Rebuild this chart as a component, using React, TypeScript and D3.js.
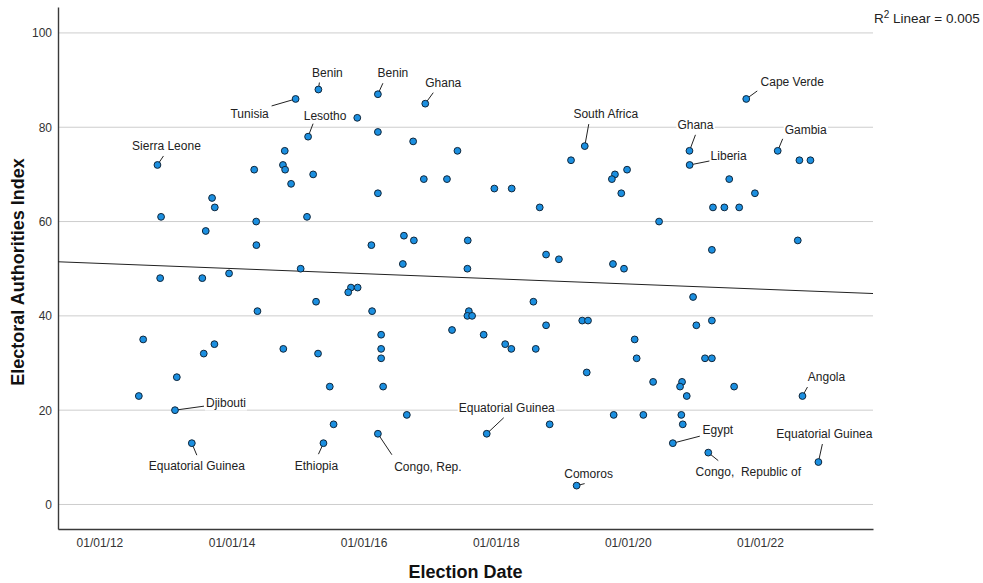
import { useEffect, useRef } from "react";
import * as d3 from "d3";

// labelled elections
const labelledCountries = [
  "Sierra Leone", "Tunisia", "Benin", "Benin", "Lesotho", "Ghana", "South Africa",
  "Ghana", "Liberia", "Cape Verde", "Gambia", "Djibouti", "Equatorial Guinea",
  "Ethiopia", "Congo, Rep.", "Equatorial Guinea", "Comoros", "Egypt",
  "Congo,  Republic of", "Angola", "Equatorial Guinea",
];
const labelledDates = [
  "2012-11-17", "2014-12-21", "2015-04-26", "2016-03-20", "2015-02-28", "2016-12-07", "2019-05-08",
  "2020-12-07", "2020-12-08", "2021-10-17", "2022-04-09", "2013-02-22", "2013-05-26",
  "2015-05-24", "2016-03-20", "2017-11-12", "2019-03-24", "2020-09-06",
  "2021-03-21", "2022-08-24", "2022-11-20",
];
const labelledScores = [72, 86, 88, 87, 78, 85, 76, 75, 72, 86, 75, 20, 13, 13, 15, 15, 4, 13, 11, 23, 9];

// the rest of the elections
const otherDates = [
  "2015-11-27", "2016-03-20", "2014-10-22", "2014-05-06", "2014-10-12", "2014-10-24", "2015-03-28",
  "2014-11-26", "2016-03-20", "2013-09-15", "2013-09-30", "2012-12-07", "2014-05-17", "2015-02-22",
  "2013-08-11", "2014-05-18", "2016-02-13", "2016-10-01", "2017-06-03", "2016-11-29", "2017-04-06",
  "2017-12-24", "2018-03-30", "2018-09-01", "2019-02-21", "2019-10-22", "2019-10-05", "2019-12-28",
  "2019-11-26", "2020-06-22", "2016-08-11", "2016-10-05", "2017-07-30", "2018-10-06", "2018-12-16",
  "2022-08-07", "2022-10-07", "2021-07-15", "2021-12-04", "2021-04-16", "2021-06-18", "2021-09-08",
  "2022-07-29", "2021-04-10", "2015-01-18", "2012-12-02", "2013-07-23", "2013-12-18", "2015-10-23",
  "2015-11-29", "2015-10-08", "2015-04-13", "2014-05-24", "2016-02-17", "2012-08-30", "2013-07-31",
  "2013-09-28", "2014-10-14", "2015-04-24", "2016-04-07", "2016-04-07", "2016-04-07", "2013-03-04",
  "2012-08-06", "2015-06-28", "2016-04-18", "2015-07-19", "2016-08-05", "2017-07-28", "2019-10-11",
  "2019-12-11", "2020-12-27", "2018-07-28", "2017-08-05", "2017-07-28", "2017-08-23", "2019-04-24",
  "2019-05-26", "2018-10-06", "2021-01-14", "2017-05-04", "2017-10-26", "2018-02-22", "2018-03-28",
  "2018-08-10", "2020-02-08", "2020-02-19", "2019-05-19", "2020-05-20", "2020-10-27", "2020-10-16",
  "2020-11-22", "2016-08-27", "2019-10-15", "2020-03-27", "2020-10-23", "2018-10-26", "2020-10-31",
  "2021-04-10", "2021-03-03", "2021-04-10", "2021-08-11",
];
const otherScores = [
  82, 79, 75, 71, 72, 71, 70,
  68, 66, 65, 63, 61, 60, 61,
  58, 55, 55, 77, 75, 69, 69,
  67, 67, 63, 73, 70, 69, 71,
  66, 60, 57, 56, 56, 53, 52,
  73, 73, 69, 66, 63, 63, 63,
  56, 54, 50, 48, 48, 49, 46,
  46, 45, 43, 41, 41, 35, 32,
  34, 33, 32, 36, 33, 31, 27,
  23, 25, 25, 17, 51, 50, 51,
  50, 44, 43, 41, 40, 40, 39,
  39, 38, 38, 37, 36, 34, 33,
  33, 35, 31, 28, 26, 26, 25,
  23, 19, 19, 19, 19, 17, 17,
  39, 31, 31, 25,
];

const yTicks = [0, 20, 40, 60, 80, 100];
const xTickYears = [2012, 2014, 2016, 2018, 2020, 2022];

// label placement: text centre and leader end, px offsets from the point
const labelLayout = [
  { tx: 9, ty: -19, lx: 6, ly: -9 },
  { tx: -46, ty: 15, lx: -24, ly: 7 },
  { tx: 9, ty: -17, lx: 1, ly: -7 },
  { tx: 15, ty: -22, lx: 5, ly: -11 },
  { tx: 17, ty: -21, lx: 5, ly: -13 },
  { tx: 18, ty: -21, lx: 8, ly: -11 },
  { tx: 21, ty: -32, lx: 4, ly: -22 },
  { tx: 6, ty: -26, lx: 6, ly: -16 },
  { tx: 39, ty: -9, lx: 20, ly: -4 },
  { tx: 46, ty: -17, lx: 11, ly: -8 },
  { tx: 28, ty: -21, lx: 5, ly: -12 },
  { tx: 51, ty: -7, lx: 29, ly: -4 },
  { tx: 5, ty: 22, lx: 5, ly: 12 },
  { tx: -7, ty: 22, lx: -5, ly: 11 },
  { tx: 50, ty: 33, lx: 14, ly: 21 },
  { tx: 20, ty: -26, lx: 17, ly: -16 },
  { tx: 12, ty: -12, lx: 8, ly: -2 },
  { tx: 45, ty: -14, lx: 27, ly: -7 },
  { tx: 40, ty: 19, lx: 10, ly: 8 },
  { tx: 24, ty: -19, lx: 5, ly: -9 },
  { tx: 6, ty: -28, lx: 4, ly: -18 },
];

const W = 983;
const H = 583;
const left = 58;
const right = 873;
const top = 7;
const bottom = 529;
const FONT = "'Liberation Sans', Arial, sans-serif";

const parse = d3.timeParse("%Y-%m-%d");

function App() {
  const svgRef = useRef(null);

  useEffect(() => {
    const svg = d3.select(svgRef.current);
    svg.selectAll("*").remove();

    const x = d3.scaleTime()
      .domain([new Date(2011, 4, 17), new Date(2023, 8, 18)])
      .range([left, right]);
    const y = d3.scaleLinear().domain([-5.2, 105.5]).range([bottom, top]);

    const others = otherDates.map((d, i) => ({ date: parse(d), v: otherScores[i] }));
    const labelled = labelledDates.map((d, i) => ({ date: parse(d), v: labelledScores[i], name: labelledCountries[i] }));
    const all = others.concat(labelled);

    // gridlines
    svg.append("g").selectAll("line").data(yTicks).join("line")
      .attr("x1", left).attr("x2", right)
      .attr("y1", (d) => y(d)).attr("y2", (d) => y(d))
      .attr("stroke", "#cdcdcd").attr("stroke-width", 1);

    // y axis
    const yAxis = svg.append("g").attr("transform", `translate(${left},0)`)
      .call(d3.axisLeft(y).tickValues(yTicks).tickSize(0).tickPadding(6).tickFormat(d3.format("d")));
    yAxis.select(".domain").attr("stroke", "#3a3a3a").attr("stroke-width", 1.4);
    yAxis.selectAll("text").attr("font-family", FONT).attr("font-size", 12).attr("fill", "#333");

    // x axis
    const xAxis = svg.append("g").attr("transform", `translate(0,${bottom})`)
      .call(d3.axisBottom(x).tickValues(xTickYears.map((yr) => new Date(yr, 0, 1)))
        .tickSize(0).tickPadding(9).tickFormat(d3.timeFormat("%m/%d/%y")));
    xAxis.select(".domain").attr("stroke", "#3a3a3a").attr("stroke-width", 1.4);
    xAxis.selectAll("text").attr("font-family", FONT).attr("font-size", 12).attr("fill", "#333");

    // linear fit
    const xs = all.map((d) => d.date.getTime());
    const ys = all.map((d) => d.v);
    const mx = d3.mean(xs);
    const my = d3.mean(ys);
    const slope = d3.sum(xs, (xv, i) => (xv - mx) * (ys[i] - my)) / d3.sum(xs, (xv) => (xv - mx) ** 2);
    const fit = (t) => my + slope * (t - mx);
    const [d0, d1] = x.domain();
    svg.append("line")
      .attr("x1", x(d0)).attr("y1", y(fit(d0.getTime())))
      .attr("x2", x(d1)).attr("y2", y(fit(d1.getTime())))
      .attr("stroke", "#222").attr("stroke-width", 1);

    // leader lines
    svg.append("g").selectAll("line").data(labelled).join("line")
      .attr("x1", (d) => x(d.date)).attr("y1", (d) => y(d.v))
      .attr("x2", (d, i) => x(d.date) + labelLayout[i].lx)
      .attr("y2", (d, i) => y(d.v) + labelLayout[i].ly)
      .attr("stroke", "#222").attr("stroke-width", 1);

    // points
    svg.append("g").selectAll("circle").data(all).join("circle")
      .attr("cx", (d) => x(d.date)).attr("cy", (d) => y(d.v))
      .attr("r", 3.4)
      .attr("fill", "#1b8fe0").attr("stroke", "#10263a").attr("stroke-width", 1);

    // labels with white backing
    const lab = svg.append("g").selectAll("g").data(labelled).join("g")
      .attr("transform", (d, i) => `translate(${x(d.date) + labelLayout[i].tx},${y(d.v) + labelLayout[i].ty})`);
    const txt = lab.append("text")
      .attr("text-anchor", "middle").attr("dy", "0.36em")
      .attr("font-family", FONT).attr("font-size", 12).attr("fill", "#222")
      .style("white-space", "pre")
      .text((d) => d.name);
    txt.each(function () {
      const b = this.getBBox();
      d3.select(this.parentNode).insert("rect", "text")
        .attr("x", b.x - 1).attr("y", b.y).attr("width", b.width + 2).attr("height", b.height)
        .attr("fill", "#fff");
    });

    // R² note
    const r = svg.append("text").attr("x", 874).attr("y", 23)
      .attr("font-family", FONT).attr("font-size", 13.5).attr("fill", "#222");
    r.append("tspan").text("R");
    r.append("tspan").attr("font-size", 10).attr("dy", -5).text("2");
    r.append("tspan").attr("dy", 5).text(" Linear = 0.005");

    // axis titles
    svg.append("text").attr("x", (left + right) / 2).attr("y", 578)
      .attr("text-anchor", "middle").attr("font-family", FONT)
      .attr("font-size", 18).attr("font-weight", "bold").attr("fill", "#111")
      .text("Election Date");
    svg.append("text").attr("transform", `translate(24,${(top + bottom) / 2 + 4}) rotate(-90)`)
      .attr("text-anchor", "middle").attr("font-family", FONT)
      .attr("font-size", 18).attr("font-weight", "bold").attr("fill", "#111")
      .text("Electoral Authorities Index");
  }, []);

  return (
    <svg ref={svgRef} width={W} height={H}
      style={{ position: "absolute", left: 0, top: 0, background: "#fff" }} />
  );
}

export default App;
